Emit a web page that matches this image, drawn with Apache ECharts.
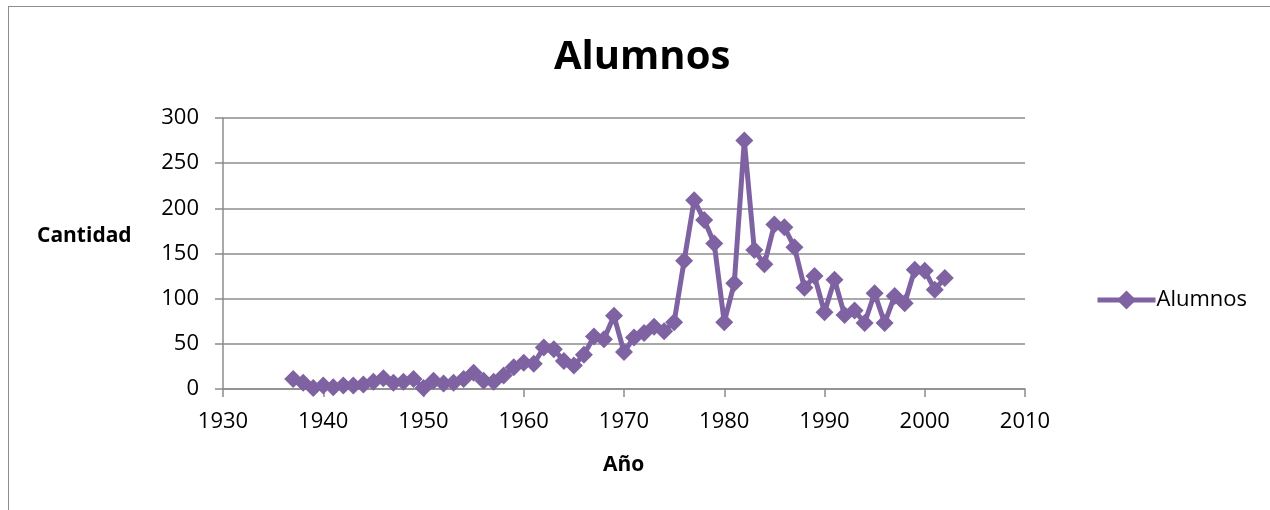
<!DOCTYPE html>
<html>
<head>
<meta charset="utf-8">
<script src="https://cdn.jsdelivr.net/npm/echarts@6/dist/echarts.min.js"></script>
<style>
html,body{margin:0;padding:0;background:#fff;}
#frame{position:absolute;left:8px;top:6px;width:1400px;height:700px;border:1.5px solid #8c8c8c;box-sizing:border-box;}
#chart{position:absolute;left:0;top:0;width:1270px;height:510px;}
</style>
</head>
<body>
<div id="frame"></div>
<div id="chart"></div>
<script>
const years = [1937,1938,1939,1940,1941,1942,1943,1944,1945,1946,1947,1948,1949,1950,1951,1952,1953,1954,1955,1956,1957,1958,1959,1960,1961,1962,1963,1964,1965,1966,1967,1968,1969,1970,1971,1972,1973,1974,1975,1976,1977,1978,1979,1980,1981,1982,1983,1984,1985,1986,1987,1988,1989,1990,1991,1992,1993,1994,1995,1996,1997,1998,1999,2000,2001,2002];
const alumnos = [11,7,1,4,2,4,4,5,8,12,7,8,11,1,9,6,7,11,18,9,8,15,24,29,28,46,44,31,26,38,58,55,81,41,57,62,69,64,74,142,209,187,161,74,117,275,154,138,182,179,157,112,125,85,121,82,87,73,106,73,103,95,132,131,110,123];
const seriesName = 'Alumnos';
const titleText = 'Alumnos';
const yName = 'Cantidad';
const xName = 'Año';

const font = '"Open Sans", sans-serif';
const purple = '#7e62a1';
const chart = echarts.init(document.getElementById('chart'), null, {renderer:'canvas'});
chart.setOption({
  animation:false,
  title:{text:titleText,left:549,top:33,
    textStyle:{fontFamily:font,fontSize:40,fontWeight:'bold',color:'#000'}},
  grid:{left:223,right:245,top:118,bottom:121,containLabel:false},
  legend:{left:1090,top:284,itemWidth:58,itemHeight:24,itemGap:2,
    textStyle:{fontFamily:font,fontSize:22,color:'#000',padding:[0,0,0,-4]},
    lineStyle:{width:5,color:purple},
    data:[seriesName]},
  xAxis:{type:'value',min:1930,max:2010,interval:10,
    axisLine:{show:true,lineStyle:{color:'#8c8c8c',width:1.5}},
    axisTick:{show:true,length:8,lineStyle:{color:'#8c8c8c',width:1.5}},
    splitLine:{show:false},
    axisLabel:{fontFamily:font,fontSize:22,color:'#000',margin:22,formatter:v=>String(v)}},
  yAxis:{type:'value',min:0,max:300,interval:50,
    axisLine:{show:true,lineStyle:{color:'#8c8c8c',width:1.5}},
    axisTick:{show:true,length:8,lineStyle:{color:'#8c8c8c',width:1.5}},
    splitLine:{show:true,lineStyle:{color:'#8c8c8c',width:1.5}},
    axisLabel:{fontFamily:font,fontSize:22,color:'#000',margin:24}},
  graphic:[
    {type:'text',left:37,top:226,style:{text:yName,fontFamily:font,fontSize:21,fontWeight:'bold',fill:'#000'}},
    {type:'text',left:603,top:455,style:{text:xName,fontFamily:font,fontSize:21,fontWeight:'bold',fill:'#000'}}
  ],
  series:[{
    name:seriesName,type:'line',
    data:years.map((y,i)=>[y,alumnos[i]]),
    symbol:'diamond',symbolSize:18,
    lineStyle:{color:purple,width:5},
    itemStyle:{color:purple}
  }]
});
</script>
</body>
</html>
